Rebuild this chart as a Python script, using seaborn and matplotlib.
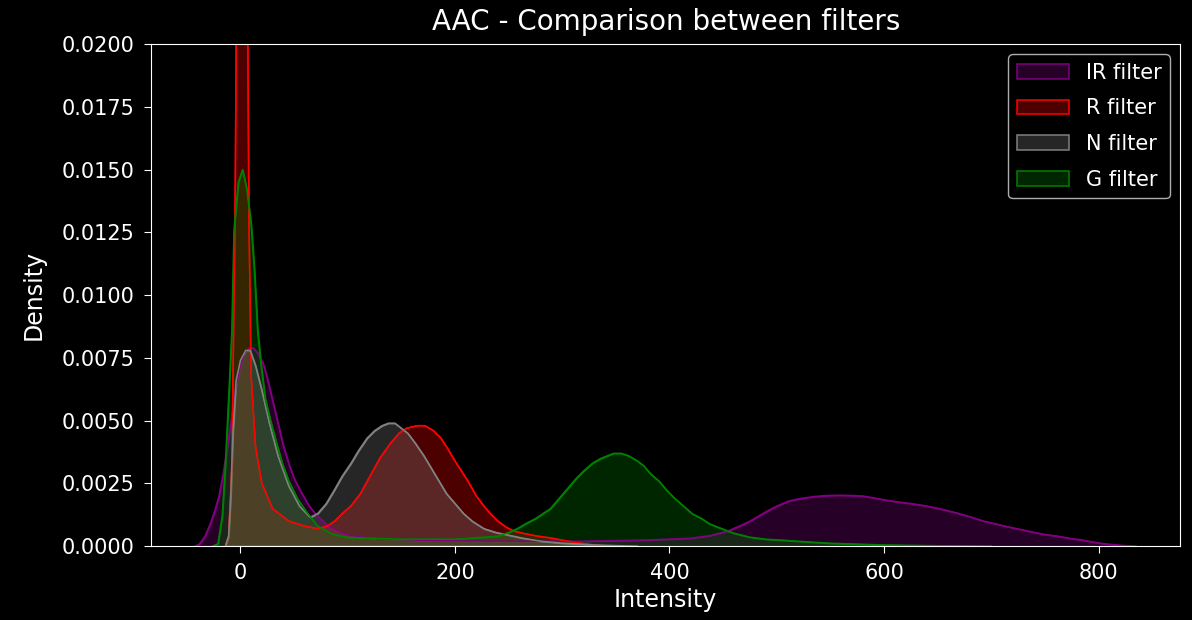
import numpy as np
import pandas as pd
import matplotlib
matplotlib.use('Agg')
import matplotlib.pyplot as plt
import seaborn as sns
from matplotlib.colors import to_rgba

# density curves (intensity, density)
ir_x = [-42, -38, -33, -28, -24, -20, -16, -12, -8, -4, 0, 4, 8, 12, 16, 21, 25, 30, 35, 40, 45,
        50, 56, 64, 72, 80, 87, 94, 100, 115, 130, 180, 250, 320, 380, 420, 437, 454, 465, 475,
        483, 491, 500, 511, 522, 535, 547, 559, 570, 580, 590, 600, 612, 625, 636, 646, 658, 670,
        682, 693, 704, 715, 727, 739, 750, 762, 774, 786, 796, 805, 812, 820, 835]
ir_y = [0, 0.0001, 0.0004, 0.0009, 0.0014, 0.002, 0.0029, 0.004, 0.0052, 0.0064, 0.0072, 0.0077,
        0.0079, 0.0079, 0.0077, 0.0073, 0.0067, 0.0058, 0.0049, 0.004, 0.0033,
        0.0027, 0.0022, 0.0016, 0.0012, 0.00088, 0.0007, 0.00055, 0.00045, 0.00035, 0.0003,
        0.00022, 0.0002, 0.0002, 0.00025, 0.00032, 0.00042, 0.0006, 0.0008, 0.001,
        0.0012, 0.0014, 0.0016, 0.0018, 0.0019, 0.00198, 0.00202, 0.00203, 0.00202, 0.002,
        0.00193, 0.00185, 0.00177, 0.0017, 0.00163, 0.00155, 0.00143, 0.0013,
        0.00115, 0.001, 0.00089, 0.00078, 0.00067, 0.00056, 0.00047, 0.0004, 0.00031, 0.00024,
        0.00016, 0.0001, 0.00007, 0.00004, 0]

r_x = [-14, -11, -8, -5, -3, -1, 1.5, 4, 6, 8, 10, 14, 20, 30, 45, 60, 72, 81, 88, 95, 103, 112,
       121, 130, 140, 148, 155, 165, 172, 180, 187, 193, 200, 206, 212, 220, 227, 233, 240, 248,
       255, 265, 277, 289, 305, 320, 340]
r_y = [0, 0.0004, 0.0031, 0.013, 0.026, 0.041, 0.05, 0.041, 0.026, 0.013, 0.0068, 0.004, 0.0025,
       0.0015, 0.001, 0.0008, 0.0007, 0.0008, 0.001, 0.0013, 0.0016, 0.0021,
       0.0028, 0.0035, 0.0041, 0.0045, 0.0047, 0.0048, 0.0048, 0.0046, 0.0043, 0.0039, 0.0034,
       0.003, 0.0026, 0.002, 0.0016, 0.0013, 0.001, 0.00075,
       0.0006, 0.0005, 0.0004, 0.00033, 0.0002, 0.0001, 0]

n_x = [-14, -11, -9, -7, -4, 0, 5, 9, 14, 20, 27, 35, 45, 55, 65, 72, 80, 87, 95, 103, 110, 118,
       125, 132, 138, 144, 150, 156, 163, 171, 178, 185, 192, 200, 208, 216, 227, 238, 249, 262,
       280, 300, 330, 370]
n_y = [0, 0.0004, 0.002, 0.0045, 0.0066, 0.0074, 0.0078, 0.0078, 0.0072, 0.0062, 0.0049, 0.0036,
       0.0024, 0.0016, 0.00115, 0.0013, 0.0017, 0.0022, 0.0028, 0.0033, 0.0038, 0.0043,
       0.0046, 0.0048, 0.0049, 0.0049, 0.0047, 0.0045, 0.0041, 0.0036, 0.0031, 0.0026, 0.0021,
       0.0017, 0.0013, 0.001, 0.0007, 0.00055, 0.00045, 0.00033,
       0.0002, 0.00012, 0.00005, 0]

g_x = [-26, -21, -17, -14, -11, -8, -6, -2, 2, 6, 10, 13, 16, 19, 23, 28, 33, 39, 45, 53, 61, 72,
       85, 100, 150, 200, 240, 250, 258, 266, 275, 282, 289, 297, 305, 313, 320, 328, 336, 342,
       348, 355, 362, 370, 376, 382, 390, 398, 405, 413, 421, 430, 437, 445, 460, 475, 490, 506,
       530, 550, 600, 650, 700]
g_y = [0, 0.0001, 0.0012, 0.0033, 0.0059, 0.0086, 0.0126, 0.0145, 0.015, 0.0142, 0.0128, 0.011,
       0.0086, 0.0073, 0.0059, 0.005, 0.0042, 0.0033, 0.0026, 0.0019, 0.0014, 0.0008,
       0.0005, 0.00035, 0.00028, 0.00028, 0.0004, 0.00055, 0.0007, 0.0009, 0.0011, 0.0013,
       0.0015, 0.0019, 0.0023, 0.0027, 0.003, 0.0033, 0.0035, 0.0036,
       0.0037, 0.0037, 0.0036, 0.0034, 0.0032, 0.0029, 0.0026, 0.0022, 0.0019, 0.0016, 0.0013,
       0.0011, 0.0009, 0.00076, 0.00052, 0.00036, 0.00028, 0.00024,
       0.00017, 0.00012, 0.00005, 0.00002, 0]

labels = ['IR filter', 'R filter', 'N filter', 'G filter']
colors = ['purple', 'red', 'gray', 'green']
curves = [(ir_x, ir_y), (r_x, r_y), (n_x, n_y), (g_x, g_y)]

plt.style.use('dark_background')
fig, ax = plt.subplots(figsize=(11.92, 6.2), dpi=100)
fig.subplots_adjust(left=0.127, right=0.99, top=0.929, bottom=0.119)

for (x, y), lab, c in zip(curves, labels, colors):
    df = pd.DataFrame({'Intensity': x, 'Density': y})
    ax.fill_between(df['Intensity'], 0, df['Density'], facecolor=to_rgba(c, 0.3),
                    edgecolor=to_rgba(c, 1), linewidth=1.1, label=lab)
    sns.lineplot(data=df, x='Intensity', y='Density', color=c, linewidth=1.1, ax=ax)

ax.set_xlim(-83, 876)
ax.set_ylim(0, 0.02)
ax.set_title('AAC - Comparison between filters', fontsize=20, pad=10)
ax.set_xlabel('Intensity', fontsize=17)
ax.set_ylabel('Density', fontsize=17, labelpad=12)
ax.tick_params(labelsize=15, length=5, pad=7)
ax.legend(fontsize=15, loc='upper right', labelspacing=0.75, handlelength=2.5,
          edgecolor='0.85')

plt.savefig('out.png')
